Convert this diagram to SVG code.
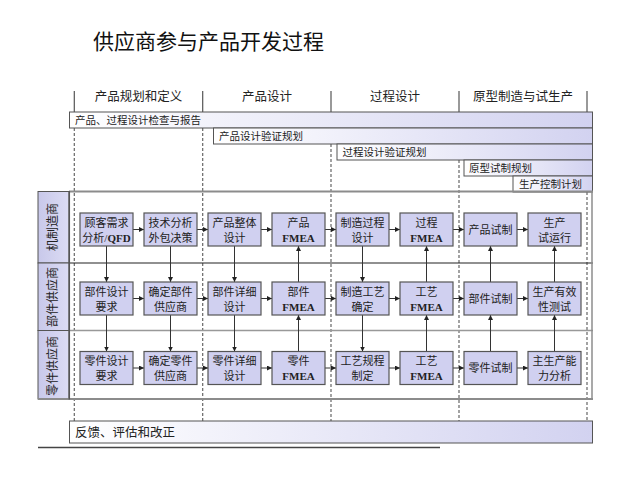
<svg xmlns="http://www.w3.org/2000/svg" width="640" height="480" viewBox="0 0 640 480">
<defs>
<linearGradient id="barG" x1="0" y1="0" x2="1" y2="0">
<stop offset="0" stop-color="#ffffff"/>
<stop offset="1" stop-color="#d2d2f0"/>
</linearGradient>
<linearGradient id="laneG" x1="0" y1="0" x2="1" y2="0">
<stop offset="0" stop-color="#c8c8ea"/>
<stop offset="1" stop-color="#dcdcf4"/>
</linearGradient>
<marker id="ah" viewBox="0 0 6 6" refX="6" refY="3" markerWidth="5" markerHeight="5" orient="auto" markerUnits="userSpaceOnUse">
<path d="M0,0 L6,3 L0,6 z" fill="#222"/>
</marker>
<style>
.title{font-family:"Noto Sans CJK SC","Liberation Sans",sans-serif;font-size:21px;fill:#111}
.hdr{font-family:"Liberation Serif","Noto Sans CJK SC",serif;font-size:12.5px;fill:#222;text-anchor:middle}
.bar{fill:url(#barG);stroke:#555;stroke-width:1}
.bt{font-family:"Liberation Serif","Noto Sans CJK SC",serif;font-size:10.5px;fill:#222}
.ft{font-family:"Liberation Serif","Noto Sans CJK SC",serif;font-size:12.5px;fill:#222}
.tick{stroke:#555;stroke-width:1.2}
.dash{stroke:#666;stroke-width:1.2;stroke-dasharray:3 2}
.lane{fill:url(#laneG);stroke:#555;stroke-width:1}
.lt{font-family:"Noto Sans CJK SC",sans-serif;font-size:12px;fill:#222;text-anchor:middle}
.node rect{fill:#d0d0f0;stroke:#555;stroke-width:1.2}
.node text{font-family:"Liberation Serif","Noto Sans CJK SC",serif;font-size:11px;fill:#222;text-anchor:middle}
.b{font-weight:bold}
.conn line{stroke:#333;stroke-width:1;marker-end:url(#ah)}
</style>
</defs>
<rect width="640" height="480" fill="#ffffff"/>
<text class="title" x="93" y="49">供应商参与产品开发过程</text>

<g id="phases">
<line class="tick" x1="74.3" y1="91" x2="74.3" y2="112"/>
<line class="tick" x1="202.7" y1="91" x2="202.7" y2="112"/>
<line class="tick" x1="331" y1="91" x2="331" y2="112"/>
<line class="tick" x1="459" y1="91" x2="459" y2="112"/>
<line class="tick" x1="587" y1="91" x2="587" y2="112"/>
<text class="hdr" x="138.5" y="101">产品规划和定义</text>
<text class="hdr" x="267" y="101">产品设计</text>
<text class="hdr" x="395" y="101">过程设计</text>
<text class="hdr" x="523" y="101">原型制造与试生产</text>
</g>

<g id="dashes">
<line class="dash" x1="74.3" y1="128" x2="74.3" y2="421"/>
<line class="dash" x1="202.7" y1="128" x2="202.7" y2="421"/>
<line class="dash" x1="331" y1="144" x2="331" y2="421"/>
<line class="dash" x1="459" y1="160" x2="459" y2="421"/>
<line class="dash" x1="587" y1="192" x2="587" y2="421"/>
</g>

<g id="bars">
<rect class="bar" x="69.5" y="112" width="523" height="16"/>
<text class="bt" x="75" y="124">产品、过程设计检查与报告</text>
<rect class="bar" x="213.5" y="128" width="379" height="16"/>
<text class="bt" x="219" y="140">产品设计验证规划</text>
<rect class="bar" x="337" y="144" width="255.5" height="16"/>
<text class="bt" x="342.5" y="156">过程设计验证规划</text>
<rect class="bar" x="464" y="160" width="128.5" height="16"/>
<text class="bt" x="469" y="172">原型试制规划</text>
<rect class="bar" x="513" y="176" width="79.5" height="16"/>
<text class="bt" x="519" y="188">生产控制计划</text>
</g>

<g id="lanes">
<rect class="lane" x="38" y="191.5" width="31" height="71.5"/>
<rect class="lane" x="38" y="263" width="31" height="67.5"/>
<rect class="lane" x="38" y="330.5" width="31" height="68.5"/>
<text class="lt" transform="translate(57,227) rotate(-90)">机制造商</text>
<text class="lt" transform="translate(57,297) rotate(-90)">部件供应商</text>
<text class="lt" transform="translate(57,366) rotate(-90)">零件供应商</text>
<line x1="69" y1="191.5" x2="593" y2="191.5" stroke="#8c8c8c" stroke-width="2"/>
<line x1="69" y1="263" x2="593" y2="263" stroke="#222" stroke-width="1.2"/>
<line x1="69" y1="330.5" x2="593" y2="330.5" stroke="#999" stroke-width="1.5"/>
<line x1="38" y1="399" x2="593" y2="399" stroke="#8c8c8c" stroke-width="2"/>
<line x1="592" y1="191" x2="592" y2="399.5" stroke="#8c8c8c" stroke-width="1.5"/>
<line x1="69.3" y1="191" x2="69.3" y2="399.5" stroke="#555" stroke-width="1.5"/>
</g>

<g id="feedback">
<rect class="bar" x="69.5" y="421" width="523" height="22"/>
<text class="ft" x="75" y="437">反馈、评估和改正</text>
<line x1="38" y1="447.5" x2="440" y2="447.5" stroke="#444" stroke-width="1.5"/>
</g>

<g class="conn" id="connectors">
<line x1="133" y1="229.5" x2="144" y2="229.5"/>
<line x1="197" y1="229.5" x2="208" y2="229.5"/>
<line x1="261" y1="229.5" x2="272" y2="229.5"/>
<line x1="325" y1="229.5" x2="336" y2="229.5"/>
<line x1="389" y1="229.5" x2="400" y2="229.5"/>
<line x1="453" y1="229.5" x2="464" y2="229.5"/>
<line x1="517" y1="229.5" x2="528" y2="229.5"/>
<line x1="133" y1="298.5" x2="144" y2="298.5"/>
<line x1="197" y1="298.5" x2="208" y2="298.5"/>
<line x1="261" y1="298.5" x2="272" y2="298.5"/>
<line x1="325" y1="298.5" x2="336" y2="298.5"/>
<line x1="389" y1="298.5" x2="400" y2="298.5"/>
<line x1="453" y1="298.5" x2="464" y2="298.5"/>
<line x1="517" y1="298.5" x2="528" y2="298.5"/>
<line x1="133" y1="368" x2="144" y2="368"/>
<line x1="197" y1="368" x2="208" y2="368"/>
<line x1="261" y1="368" x2="272" y2="368"/>
<line x1="325" y1="368" x2="336" y2="368"/>
<line x1="389" y1="368" x2="400" y2="368"/>
<line x1="453" y1="368" x2="464" y2="368"/>
<line x1="517" y1="368" x2="528" y2="368"/>
<line x1="106.5" y1="246" x2="106.5" y2="282"/>
<line x1="106.5" y1="315" x2="106.5" y2="351.5"/>
<line x1="170.5" y1="246" x2="170.5" y2="282"/>
<line x1="170.5" y1="315" x2="170.5" y2="351.5"/>
<line x1="234.5" y1="246" x2="234.5" y2="282"/>
<line x1="234.5" y1="315" x2="234.5" y2="351.5"/>
<line x1="298.5" y1="351.5" x2="298.5" y2="315"/>
<line x1="298.5" y1="282" x2="298.5" y2="246"/>
<line x1="362.5" y1="246" x2="362.5" y2="282"/>
<line x1="362.5" y1="315" x2="362.5" y2="351.5"/>
<line x1="426.5" y1="351.5" x2="426.5" y2="315"/>
<line x1="426.5" y1="282" x2="426.5" y2="246"/>
<line x1="490.5" y1="351.5" x2="490.5" y2="315"/>
<line x1="490.5" y1="282" x2="490.5" y2="246"/>
<line x1="554.5" y1="351.5" x2="554.5" y2="315"/>
<line x1="554.5" y1="282" x2="554.5" y2="246"/>
</g>

<g class="node" id="n11"><rect x="80" y="213" width="53" height="33"/><text x="106.5" y="226.5">顾客需求</text><text x="106.5" y="241.5">分析/<tspan class="b">QFD</tspan></text></g>
<g class="node" id="n12"><rect x="144" y="213" width="53" height="33"/><text x="170.5" y="226.5">技术分析</text><text x="170.5" y="241.5">外包决策</text></g>
<g class="node" id="n13"><rect x="208" y="213" width="53" height="33"/><text x="234.5" y="226.5">产品整体</text><text x="234.5" y="241.5">设计</text></g>
<g class="node" id="n14"><rect x="272" y="213" width="53" height="33"/><text x="298.5" y="226.5">产品</text><text x="298.5" y="241.5" class="b">FMEA</text></g>
<g class="node" id="n15"><rect x="336" y="213" width="53" height="33"/><text x="362.5" y="226.5">制造过程</text><text x="362.5" y="241.5">设计</text></g>
<g class="node" id="n16"><rect x="400" y="213" width="53" height="33"/><text x="426.5" y="226.5">过程</text><text x="426.5" y="241.5" class="b">FMEA</text></g>
<g class="node" id="n17"><rect x="464" y="213" width="53" height="33"/><text x="490.5" y="233.5">产品试制</text></g>
<g class="node" id="n18"><rect x="528" y="213" width="53" height="33"/><text x="554.5" y="226.5">生产</text><text x="554.5" y="241.5">试运行</text></g>

<g class="node" id="n21"><rect x="80" y="282" width="53" height="33"/><text x="106.5" y="295.5">部件设计</text><text x="106.5" y="310.5">要求</text></g>
<g class="node" id="n22"><rect x="144" y="282" width="53" height="33"/><text x="170.5" y="295.5">确定部件</text><text x="170.5" y="310.5">供应商</text></g>
<g class="node" id="n23"><rect x="208" y="282" width="53" height="33"/><text x="234.5" y="295.5">部件详细</text><text x="234.5" y="310.5">设计</text></g>
<g class="node" id="n24"><rect x="272" y="282" width="53" height="33"/><text x="298.5" y="295.5">部件</text><text x="298.5" y="310.5" class="b">FMEA</text></g>
<g class="node" id="n25"><rect x="336" y="282" width="53" height="33"/><text x="362.5" y="295.5">制造工艺</text><text x="362.5" y="310.5">确定</text></g>
<g class="node" id="n26"><rect x="400" y="282" width="53" height="33"/><text x="426.5" y="295.5">工艺</text><text x="426.5" y="310.5" class="b">FMEA</text></g>
<g class="node" id="n27"><rect x="464" y="282" width="53" height="33"/><text x="490.5" y="302.5">部件试制</text></g>
<g class="node" id="n28"><rect x="528" y="282" width="53" height="33"/><text x="554.5" y="295.5">生产有效</text><text x="554.5" y="310.5">性测试</text></g>

<g class="node" id="n31"><rect x="80" y="351.5" width="53" height="33"/><text x="106.5" y="365">零件设计</text><text x="106.5" y="380">要求</text></g>
<g class="node" id="n32"><rect x="144" y="351.5" width="53" height="33"/><text x="170.5" y="365">确定零件</text><text x="170.5" y="380">供应商</text></g>
<g class="node" id="n33"><rect x="208" y="351.5" width="53" height="33"/><text x="234.5" y="365">零件详细</text><text x="234.5" y="380">设计</text></g>
<g class="node" id="n34"><rect x="272" y="351.5" width="53" height="33"/><text x="298.5" y="365">零件</text><text x="298.5" y="380" class="b">FMEA</text></g>
<g class="node" id="n35"><rect x="336" y="351.5" width="53" height="33"/><text x="362.5" y="365">工艺规程</text><text x="362.5" y="380">制定</text></g>
<g class="node" id="n36"><rect x="400" y="351.5" width="53" height="33"/><text x="426.5" y="365">工艺</text><text x="426.5" y="380" class="b">FMEA</text></g>
<g class="node" id="n37"><rect x="464" y="351.5" width="53" height="33"/><text x="490.5" y="372">零件试制</text></g>
<g class="node" id="n38"><rect x="528" y="351.5" width="53" height="33"/><text x="554.5" y="365">主生产能</text><text x="554.5" y="380">力分析</text></g>
</svg>
